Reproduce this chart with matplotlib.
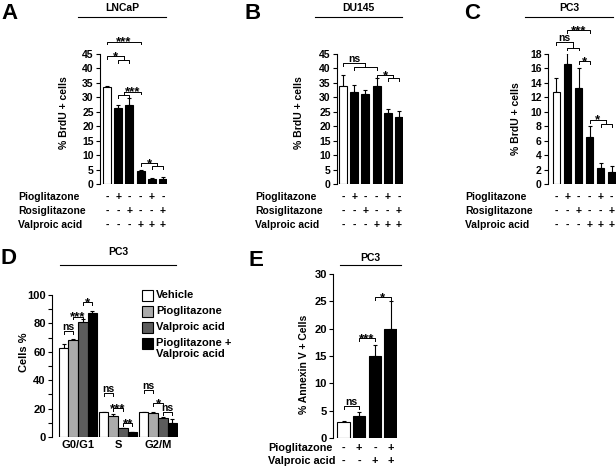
import matplotlib
matplotlib.use('Agg')
import matplotlib.pyplot as plt
import numpy as np
from matplotlib.lines import Line2D
from matplotlib.patches import Rectangle
import matplotlib.transforms as mtransforms

plt.rcParams['font.family'] = ['Liberation Sans', 'DejaVu Sans']
plt.rcParams['font.weight'] = 'bold'
plt.rcParams['axes.labelweight'] = 'bold'

# ---------------- data ----------------
lncap_vals = [33.5, 26.3, 27.4, 4.5, 1.6, 1.8]
lncap_err = [0.5, 0.9, 2.5, 0.3, 0.4, 0.7]
du145_vals = [34.0, 31.8, 31.0, 34.0, 24.6, 23.2]
du145_err = [3.9, 2.4, 1.6, 2.8, 1.5, 2.1]
pc3_vals = [12.8, 16.6, 13.3, 6.5, 2.2, 1.7]
pc3_err = [1.9, 1.6, 2.8, 1.5, 0.7, 0.8]

treat_rows = ['Pioglitazone', 'Rosiglitazone', 'Valproic acid']
treat_signs = [['-', '+', '-', '-', '+', '-'],
               ['-', '-', '+', '-', '-', '+'],
               ['-', '-', '-', '+', '+', '+']]

phases = ['G0/G1', 'S', 'G2/M']
cc_series = ['Vehicle', 'Pioglitazone', 'Valproic acid', 'Pioglitazone +\nValproic acid']
cc_vals = [[63.0, 17.3, 17.5], [68.0, 15.0, 17.0], [81.2, 6.0, 13.3], [87.0, 3.3, 10.2]]
cc_err = [[2.4, 0.4, 0.4], [0.8, 0.9, 0.4], [1.8, 0.4, 1.1], [1.8, 0.3, 2.3]]

annex_vals = [3.0, 4.0, 15.0, 20.0]
annex_err = [0.1, 0.7, 2.0, 5.0]
annex_rows = ['Pioglitazone', 'Valproic acid']
annex_signs = [['-', '+', '-', '+'], ['-', '-', '+', '+']]

# ---------------- layout helpers ----------------
W, H = 616, 466
fig = plt.figure(figsize=(W / 100, H / 100), dpi=100)
fig.patch.set_facecolor('white')


def add_ax(x0, x1, ytop, ybot):
    return fig.add_axes([x0 / W, 1 - ybot / H, (x1 - x0) / W, (ybot - ytop) / H])


def style(ax, fs):
    for s in ['top', 'right', 'bottom']:
        ax.spines[s].set_visible(False)
    ax.spines['left'].set_linewidth(0.8)
    ax.tick_params(axis='y', direction='out', length=3, width=0.8, labelsize=fs, pad=1.5)
    ax.tick_params(axis='x', length=0)
    for lab in ax.get_yticklabels():
        lab.set_fontweight('bold')


def txt_mark(ax, x, y, text):
    if text.startswith('*'):
        ax.annotate(text, xy=(x, y), xytext=(0, -2.8), textcoords='offset points',
                    ha='center', va='baseline', fontsize=9.5, annotation_clip=False)
    else:
        ax.annotate(text, xy=(x, y), xytext=(0, 0.8), textcoords='offset points',
                    ha='center', va='baseline', fontsize=7.5, annotation_clip=False)


def simple_bracket(ax, xa, xb, y, tick, text):
    ax.plot([xa, xa, xb, xb], [y - tick, y, y, y - tick], color='k', lw=0.7, clip_on=False)
    txt_mark(ax, (xa + xb) / 2, y, text)


def nested_bracket(ax, xs, g0, g1, y_up, y_grp, tick, text):
    gc = (g0 + g1) / 2
    ax.plot([g0, g0, g1, g1], [y_grp - tick, y_grp, y_grp, y_grp - tick], color='k', lw=0.7, clip_on=False)
    ax.plot([gc, gc], [y_grp, y_up], color='k', lw=0.7, clip_on=False)
    ax.plot([xs, xs, gc], [y_up - tick, y_up, y_up], color='k', lw=0.7, clip_on=False)
    txt_mark(ax, (xs + gc) / 2, y_up, text)


def title_line(cx, ty, x0, x1, ly, label):
    fig.text(cx / W, 1 - ty / H, label, ha='center', va='center', fontsize=7.5, fontweight='bold')
    fig.add_artist(Line2D([x0 / W, x1 / W], [1 - ly / H, 1 - ly / H], color='k', lw=0.8))


def panel_letter(x, y, letter):
    fig.text(x / W, 1 - y / H, letter, ha='left', va='top', fontsize=16, fontweight='bold')


def sign_table(ax, xs, rows, signs, label_x, row_ys, fs):
    trans = mtransforms.blended_transform_factory(ax.transData, fig.transFigure)
    for r, (name, yy) in enumerate(zip(rows, row_ys)):
        fig.text(label_x / W, 1 - yy / H, name, ha='left', va='center', fontsize=fs, fontweight='bold')
        for xi, s in zip(xs, signs[r]):
            ax.text(xi, 1 - yy / H, s, transform=trans, ha='center', va='center',
                    fontsize=fs, fontweight='bold')


def brdu_panel(x0, x1, xlim_left, vals, errs, ymax, ystep, tick_fs, ylabel_x, ylabel_y):
    ax = add_ax(x0, x1, 54, 184)
    xs = np.arange(len(vals))
    colors = ['white'] + ['black'] * (len(vals) - 1)
    ax.bar(xs, vals, width=0.72, color=colors, edgecolor='black', linewidth=0.8, zorder=2)
    ax.errorbar(xs, vals, yerr=[np.zeros(len(vals)), errs], fmt='none', ecolor='black',
                elinewidth=0.8, capsize=1.6, capthick=0.8, zorder=1)
    ax.set_xlim(xlim_left, 5.36)
    ax.set_ylim(0, ymax)
    ax.set_yticks(np.arange(0, ymax + 0.01, ystep))
    ax.set_xticks([])
    style(ax, tick_fs)
    ax.set_ylabel('% BrdU + cells', fontsize=7.5, fontweight='bold')
    ax.yaxis.set_label_coords(ylabel_x, ylabel_y)
    return ax, xs


# ---------------- Panel A ----------------
axA, xA = brdu_panel(100, 167, -0.63, lncap_vals, lncap_err, 45, 5, 7.5, -0.46, 0.55)
tA = 1.0
simple_bracket(axA, xA[0], xA[3], 49.3, tA, '***')
nested_bracket(axA, xA[0], xA[1], xA[2], 44.3, 43.0, tA, '*')
nested_bracket(axA, xA[3], xA[1], xA[2], 32.0, 30.8, tA, '***')
nested_bracket(axA, xA[3], xA[4], xA[5], 7.3, 6.1, tA, '*')
sign_table(axA, xA, treat_rows, treat_signs, 18, [197, 211, 225], 7.5)
title_line(122, 8, 78, 166, 17, 'LNCaP')
panel_letter(1, 3, 'A')

# ---------------- Panel B ----------------
axB, xB = brdu_panel(337, 403, -0.55, du145_vals, du145_err, 45, 5, 7.5, -0.50, 0.55)
nested_bracket(axB, xB[0], xB[1], xB[3], 42.0, 40.5, tA, 'ns')
nested_bracket(axB, xB[3], xB[4], xB[5], 37.7, 36.7, tA, '*')
sign_table(axB, xB, treat_rows, treat_signs, 255, [197, 211, 225], 7.5)
title_line(358.5, 8, 315, 402, 17, 'DU145')
panel_letter(244, 3, 'B')

# ---------------- Panel C ----------------
axC, xC = brdu_panel(548, 615.5, -0.77, pc3_vals, pc3_err, 18, 2, 7.5, -0.40, 0.5)
tC = 0.4
simple_bracket(axC, xC[1], xC[3], 21.3, tC, '***')
nested_bracket(axC, xC[0], xC[1], xC[2], 19.6, 18.9, tC, 'ns')
simple_bracket(axC, xC[2], xC[3], 17.0, tC, '*')
nested_bracket(axC, xC[3], xC[4], xC[5], 8.9, 8.3, tC, '*')
sign_table(axC, xC, treat_rows, treat_signs, 465, [197, 211, 225], 7.5)
title_line(569, 8, 525, 613, 17, 'PC3')
panel_letter(464, 3, 'C')

# ---------------- Panel D ----------------
axD = add_ax(52, 178, 295, 437)
cc_colors = ['white', '#ababab', '#5c5c5c', 'black']
gx = np.arange(len(phases))
bw = 0.24
bar_x = []
for k, (vals, errs, col) in enumerate(zip(cc_vals, cc_err, cc_colors)):
    xs = gx + (k - 1.5) * bw
    bar_x.append(xs)
    axD.bar(xs, vals, width=bw, color=col, edgecolor='black', linewidth=0.8, zorder=2)
    axD.errorbar(xs, vals, yerr=[np.zeros(len(vals)), errs], fmt='none', ecolor='black',
                 elinewidth=0.8, capsize=1.6, capthick=0.8, zorder=1)
axD.set_xlim(-0.65, 2.5)
axD.set_ylim(0, 100)
axD.set_yticks(np.arange(0, 101, 20))
axD.set_yticks(np.arange(0, 101, 10), minor=True)
axD.tick_params(axis='y', which='minor', direction='out', length=3, width=0.8)
axD.set_xticks(gx)
axD.set_xticklabels(phases, fontsize=8, fontweight='bold')
style(axD, 8)
axD.tick_params(axis='x', length=0, pad=2)
axD.set_ylabel('Cells %', fontsize=8, fontweight='bold')
axD.yaxis.set_label_coords(-0.18, 0.6)
tD = 2.0
d_brackets = [(0, 0, 1, 74.3, 'ns'), (0, 1, 2, 84.8, '***'), (0, 2, 3, 95.0, '*'),
              (1, 0, 1, 31.0, 'ns'), (1, 1, 2, 20.4, '***'), (1, 2, 3, 9.9, '**'),
              (2, 0, 1, 33.0, 'ns'), (2, 1, 2, 24.0, '*'), (2, 2, 3, 17.6, 'ns')]
for g, a, b, y, t in d_brackets:
    simple_bracket(axD, bar_x[a][g], bar_x[b][g], y, tD, t)
# legend
leg_tops = [290, 306, 322, 338]
for name, col, top in zip(cc_series, cc_colors, leg_tops):
    fig.add_artist(Rectangle((142 / W, 1 - (top + 11) / H), 11 / W, 11 / H,
                             facecolor=col, edgecolor='black', linewidth=0.8,
                             transform=fig.transFigure))
    lines = name.split('\n')
    fig.text(156 / W, 1 - (top + 5.5) / H, lines[0], ha='left', va='center', fontsize=8, fontweight='bold')
    if len(lines) > 1:
        fig.text(156 / W, 1 - (top + 16) / H, lines[1], ha='left', va='center', fontsize=8, fontweight='bold')
title_line(118, 252, 60, 176, 265, 'PC3')
panel_letter(0, 248, 'D')

# ---------------- Panel E ----------------
axE = add_ax(333, 397, 274, 438)
xE = np.arange(len(annex_vals))
axE.bar(xE, annex_vals, width=0.8, color=['white', 'black', 'black', 'black'],
        edgecolor='black', linewidth=0.8, zorder=2)
axE.errorbar(xE, annex_vals, yerr=[np.zeros(len(annex_vals)), annex_err], fmt='none',
             ecolor='black', elinewidth=0.8, capsize=1.6, capthick=0.8, zorder=1)
axE.set_xlim(-0.67, 3.41)
axE.set_ylim(0, 30)
axE.set_yticks(np.arange(0, 31, 5))
axE.set_xticks([])
style(axE, 8)
axE.set_ylabel('% Annexin V + Cells', fontsize=7.5, fontweight='bold')
axE.yaxis.set_label_coords(-0.375, 0.45)
tE = 0.55
simple_bracket(axE, xE[0], xE[1], 5.85, tE, 'ns')
simple_bracket(axE, xE[1], xE[2], 18.3, tE, '***')
simple_bracket(axE, xE[2], xE[3], 25.8, tE, '*')
sign_table(axE, xE, annex_rows, annex_signs, 268, [448, 461], 7.8)
title_line(370, 258, 340, 401, 265, 'PC3')
panel_letter(248, 250, 'E')

fig.savefig('out.png', dpi=100, facecolor='white')
